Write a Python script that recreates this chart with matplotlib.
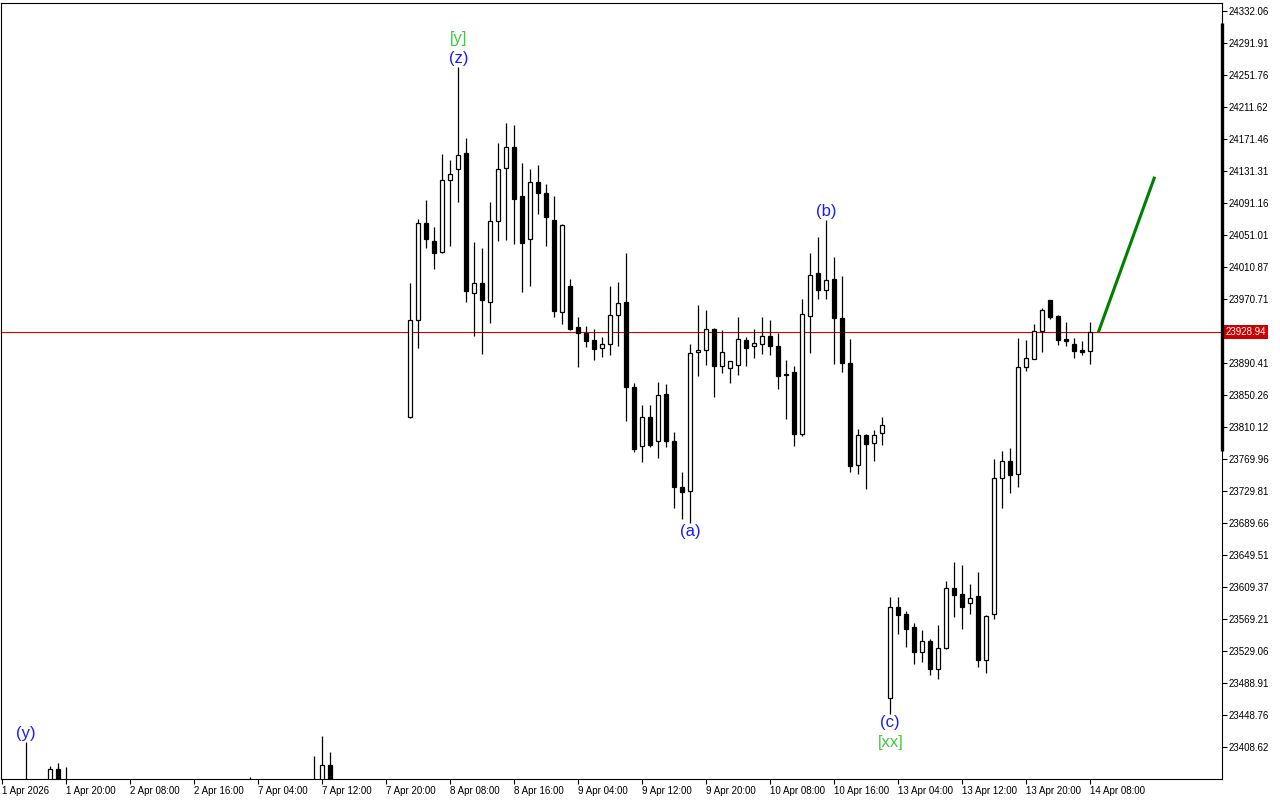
import numpy as np
import matplotlib
matplotlib.use('Agg')
import matplotlib.pyplot as plt

plt.rcParams['font.family'] = ['Liberation Sans', 'DejaVu Sans']

# ---------------- data (H1 bars, index = bar number from 1 Apr 2026) ----------------
bar_idx = [3, 6, 7, 8, 31, 39, 40, 41] + list(range(51, 137))

opens = [23350.0, 23355.0, 23380.6, 23350.0, 23350.0, 23350.0, 23350.0, 23385.6,
         23823.1, 23944.0, 24065.7, 24043.5, 24029.3, 24119.6, 24133.4, 24153.5, 23977.9, 23990.4,
         23967.4, 24069.0, 24134.7, 24161.0, 24099.6, 24045.6, 24117.1, 24103.3, 24069.4, 23954.0,
         23986.6, 23935.2, 23928.5, 23919.3, 23908.8, 23913.8, 23950.2, 23967.0, 23859.9, 23785.9,
         23822.3, 23792.2, 23851.1, 23792.2, 23734.4, 23730.2, 23903.8, 23906.3, 23932.7, 23887.1,
         23883.7, 23887.5, 23918.9, 23911.4, 23913.9, 23924.3, 23911.8, 23876.6, 23878.7, 23801.8,
         23949.0, 24002.9, 23981.6, 23995.4, 23946.9, 23890.0, 23762.9, 23799.7, 23789.6, 23802.2,
         23469.7, 23583.9, 23575.5, 23559.2, 23527.4, 23541.6, 23506.1, 23532.4, 23607.7, 23600.6,
         23588.9, 23598.1, 23517.4, 23575.1, 23745.8, 23767.1, 23750.7, 23885.0, 23895.9, 23930.2,
         23969.5, 23949.4, 23920.5, 23914.3, 23906.7, 23905.1]
highs = [23415.3, 23384.8, 23388.6, 23383.5, 23371.0, 23397.3, 23422.8, 23402.0,
         23990.4, 24070.7, 24094.5, 24060.7, 24152.7, 24145.1, 24262.2, 24172.7, 24042.3, 24034.3,
         24092.9, 24166.5, 24191.6, 24189.1, 24141.0, 24133.8, 24138.9, 24115.0, 24100.0, 24064.8,
         23995.8, 23948.6, 23937.3, 23933.5, 23922.6, 23987.0, 23992.0, 24028.0, 23864.9, 23837.7,
         23837.7, 23866.2, 23863.7, 23803.4, 23753.2, 23913.8, 23963.2, 23957.0, 23933.9, 23931.8,
         23892.5, 23947.7, 23923.1, 23932.7, 23948.2, 23944.0, 23928.5, 23894.2, 23886.7, 23970.7,
         24028.0, 24048.5, 24069.9, 24023.4, 23999.6, 23920.6, 23807.6, 23800.9, 23806.4, 23822.3,
         23596.8, 23596.8, 23579.3, 23564.2, 23555.4, 23544.1, 23561.7, 23616.5, 23640.3, 23637.0,
         23613.1, 23627.8, 23574.2, 23770.0, 23780.0, 23783.8, 23921.8, 23919.3, 23939.4, 23959.5,
         23969.5, 23950.6, 23941.9, 23921.8, 23918.0, 23941.9]
lows = [23330.0, 23345.0, 23340.0, 23330.0, 23330.0, 23330.0, 23340.0, 23340.0,
        23822.0, 23909.7, 24035.2, 24008.8, 24028.0, 24037.2, 24092.9, 23967.4, 23924.7, 23901.3,
        23941.1, 24043.9, 24044.8, 24039.3, 23979.9, 23987.5, 24077.8, 24037.6, 23948.6, 23939.8,
        23931.8, 23885.8, 23910.9, 23894.6, 23898.4, 23900.5, 23911.8, 23818.0, 23779.2, 23766.6,
        23785.4, 23771.7, 23784.6, 23708.1, 23694.3, 23690.1, 23874.1, 23887.9, 23848.2, 23878.3,
        23865.7, 23875.8, 23887.1, 23897.1, 23902.1, 23900.9, 23857.8, 23820.6, 23786.7, 23799.3,
        23903.4, 23970.7, 23970.7, 23889.6, 23879.1, 23754.1, 23751.6, 23731.9, 23767.9, 23788.0,
        23449.6, 23550.8, 23534.5, 23512.3, 23514.8, 23499.4, 23493.5, 23531.6, 23572.1, 23557.1,
        23575.1, 23509.4, 23501.9, 23569.7, 23709.0, 23727.8, 23735.3, 23880.8, 23895.9, 23904.7,
        23945.6, 23913.4, 23911.7, 23896.7, 23900.9, 23889.6]
closes = [23345.0, 23380.6, 23355.0, 23345.0, 23345.0, 23345.0, 23385.6, 23350.0,
          23944.0, 24065.7, 24046.4, 24028.9, 24119.6, 24127.2, 24151.8, 23981.2, 23990.4, 23969.1,
          24068.2, 24133.4, 24161.0, 24096.6, 24041.4, 24117.1, 24104.2, 24074.0, 23956.1, 24063.2,
          23933.5, 23928.5, 23918.5, 23908.4, 23913.8, 23950.2, 23965.3, 23859.9, 23782.9, 23822.3,
          23788.0, 23849.9, 23792.2, 23735.3, 23729.0, 23902.6, 23906.7, 23932.7, 23887.1, 23903.8,
          23892.5, 23920.1, 23909.7, 23915.1, 23924.3, 23911.4, 23874.5, 23875.4, 23801.8, 23951.5,
          24000.4, 23981.6, 23994.6, 23946.5, 23890.9, 23761.6, 23799.7, 23788.4, 23800.5, 23812.2,
          23583.9, 23574.7, 23557.1, 23527.4, 23541.2, 23506.1, 23532.4, 23607.7, 23598.9, 23583.9,
          23595.2, 23517.4, 23572.6, 23745.8, 23767.1, 23750.4, 23885.0, 23896.3, 23930.2, 23956.5,
          23948.6, 23919.7, 23918.4, 23905.9, 23904.6, 23928.94]

current_price = 23928.94

# forecast line (green)
fc_x = [137, 144.05]
fc_y = [23928.94, 24124.2]

# wave labels: bar, text, colour, above(+1)/below(-1), level (0 near, 1 far)
wave_bar = [3, 57, 57, 86, 103, 111, 111]
wave_txt = ['(y)', '(z)', '[y]', '(a)', '(b)', '(c)', '[xx]']
wave_col = ['#1a1aff', '#1a1aff', '#3ccc3c', '#1a1aff', '#1a1aff', '#1a1aff', '#3ccc3c']
wave_side = [1, 1, 1, -1, 1, -1, -1]
wave_lvl = [0, 0, 1, 0, 0, 0, 1]

ytick_vals = [24332.06, 24291.91, 24251.76, 24211.62, 24171.46, 24131.31, 24091.16, 24051.01,
              24010.87, 23970.71, 23890.41, 23850.26, 23810.12, 23769.96, 23729.81, 23689.66,
              23649.51, 23609.37, 23569.21, 23529.06, 23488.91, 23448.76, 23408.62]

xtick_bars = list(range(0, 137, 8))
xtick_labels = ['1 Apr 2026', '1 Apr 20:00', '2 Apr 08:00', '2 Apr 16:00', '7 Apr 04:00',
                '7 Apr 12:00', '7 Apr 20:00', '8 Apr 08:00', '8 Apr 16:00', '9 Apr 04:00',
                '9 Apr 12:00', '9 Apr 20:00', '10 Apr 08:00', '10 Apr 16:00', '13 Apr 04:00',
                '13 Apr 12:00', '13 Apr 20:00', '14 Apr 08:00']

# ---------------- plot ----------------
fig = plt.figure(figsize=(12.8, 8), dpi=100)
ax = fig.add_axes([1 / 1280, 21 / 800, 1221 / 1280, 776 / 800])

x = np.array(bar_idx, dtype=float)
o = np.array(opens)
h = np.array(highs)
l = np.array(lows)
c = np.array(closes)
up = c >= o

ax.vlines(x, l, h, color='black', linewidth=0.9, zorder=2)
ax.bar(x[up], c[up] - o[up], bottom=o[up], width=0.5, color='white',
       edgecolor='black', linewidth=0.9, zorder=3)
ax.bar(x[~up], c[~up] - o[~up], bottom=o[~up], width=0.5, color='black',
       edgecolor='black', linewidth=0.9, zorder=3)

ax.axhline(current_price, color='#e00000', linewidth=0.8, zorder=1)
ax.plot(fc_x, fc_y, color='#008000', linewidth=2.2, solid_capstyle='butt', zorder=4)

for b, t, col, side, lvl in zip(wave_bar, wave_txt, wave_col, wave_side, wave_lvl):
    k = bar_idx.index(b)
    yv = h[k] if side > 0 else l[k]
    off = (8.5 + 20 * lvl) * side
    ax.annotate(t, xy=(b, yv), xytext=(0, off), textcoords='offset pixels',
                ha='center', va='center', fontsize=12, color=col, zorder=5)

ax.set_xlim(-0.16, 152.46)
ax.set_ylim(23368.5, 24342.1)

ax.yaxis.tick_right()
ax.set_yticks(ytick_vals)
ax.set_yticklabels([f'{v:.2f}' for v in ytick_vals])
ax.set_xticks(xtick_bars)
ax.set_xticklabels(xtick_labels)
ax.tick_params(axis='both', direction='out', length=3.5, width=0.8, labelsize=7, colors='black')
ax.tick_params(axis='y', pad=1.5)
ax.tick_params(axis='x', pad=1.5)
plt.setp(ax.get_xticklabels(), ha='left')

for sp in ax.spines.values():
    sp.set_linewidth(0.8)
    sp.set_color('black')

# thick scale bar on the price axis
ax.plot([1, 1], [24317.0, 23780.4], transform=ax.get_yaxis_transform(), color='black',
        linewidth=2.4, solid_capstyle='butt', clip_on=False, zorder=6)

# current price tag
ax.annotate(f'{current_price:.2f}', xy=(1, current_price), xycoords=ax.get_yaxis_transform(),
            xytext=(4, 0), textcoords='offset pixels', ha='left', va='center',
            fontsize=7, color='white', annotation_clip=False,
            bbox=dict(boxstyle='square,pad=0.2', facecolor='#cc0000', edgecolor='none'))

fig.savefig('out.png', dpi=100, facecolor='white')
